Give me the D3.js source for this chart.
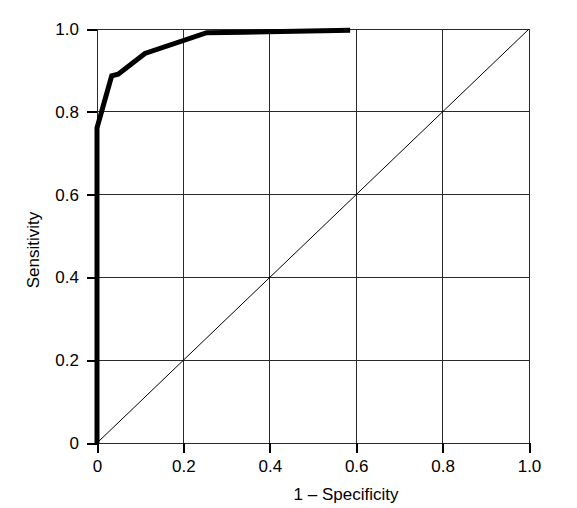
<!DOCTYPE html>
<html><head><meta charset="utf-8">
<script src="https://cdn.jsdelivr.net/npm/d3@7"></script>
<style>body{margin:0;background:#fff}svg text{font-family:"Liberation Sans",Arial,sans-serif;fill:#000}</style>
</head><body><svg id="c" width="577" height="508"></svg>
<script>
const rocFPR = [0, 0, 0.034, 0.049, 0.111, 0.254, 0.34, 0.586];
const rocTPR = [0, 0.761, 0.887, 0.891, 0.941, 0.991, 0.992, 0.997];
const tickValues = [0, 0.2, 0.4, 0.6, 0.8, 1.0];
const tickLabels = ["0", "0.2", "0.4", "0.6", "0.8", "1.0"];
const xTitle = "1 – Specificity";
const yTitle = "Sensitivity";

const svg = d3.select("#c");
const L = 97, R = 529, T = 29, B = 443;
const x = d3.scaleLinear().domain([0, 1]).range([L, R]);
const y = d3.scaleLinear().domain([0, 1]).range([B, T]);

// grid
const g = svg.append("g").attr("shape-rendering", "crispEdges");
g.selectAll(".vg").data(tickValues).join("line")
  .attr("x1", d => x(d)).attr("x2", d => x(d)).attr("y1", T).attr("y2", B)
  .attr("stroke", "#2a2a2a").attr("stroke-width", 1);
g.selectAll(".hg").data(tickValues).join("line")
  .attr("y1", d => y(d)).attr("y2", d => y(d)).attr("x1", L).attr("x2", R)
  .attr("stroke", "#2a2a2a").attr("stroke-width", 1);

// axes
const fmt = d => tickLabels[tickValues.indexOf(d)];
const xa = svg.append("g").attr("transform", `translate(0,${B})`)
  .call(d3.axisBottom(x).tickValues(tickValues).tickFormat(fmt).tickSize(10).tickPadding(7));
const ya = svg.append("g").attr("transform", `translate(${L},0)`)
  .call(d3.axisLeft(y).tickValues(tickValues).tickFormat(fmt).tickSize(10).tickPadding(8));
[xa, ya].forEach(a => {
  a.select(".domain").remove();
  a.selectAll(".tick line").attr("stroke", "#000").attr("stroke-width", 2).attr("shape-rendering", "crispEdges");
  a.selectAll(".tick text").attr("font-size", 17).attr("font-family", "Liberation Sans, Arial, sans-serif").attr("fill", "#000");
});

// diagonal
svg.append("line").attr("x1", x(0)).attr("y1", y(0)).attr("x2", x(1)).attr("y2", y(1))
  .attr("stroke", "#000").attr("stroke-width", 1);

// ROC curve
const pts = rocFPR.map((f, i) => [f, rocTPR[i]]);
svg.append("path").datum(pts)
  .attr("d", d3.line().x(d => x(d[0])).y(d => y(d[1])))
  .attr("fill", "none").attr("stroke", "#000").attr("stroke-width", 5)
  .attr("stroke-linejoin", "miter");

// titles
svg.append("text").attr("x", 346).attr("y", 500).attr("text-anchor", "middle")
  .attr("font-size", 17).text(xTitle);
svg.append("text").attr("transform", "translate(39,250) rotate(-90)").attr("text-anchor", "middle")
  .attr("font-size", 17).text(yTitle);
</script></body></html>
